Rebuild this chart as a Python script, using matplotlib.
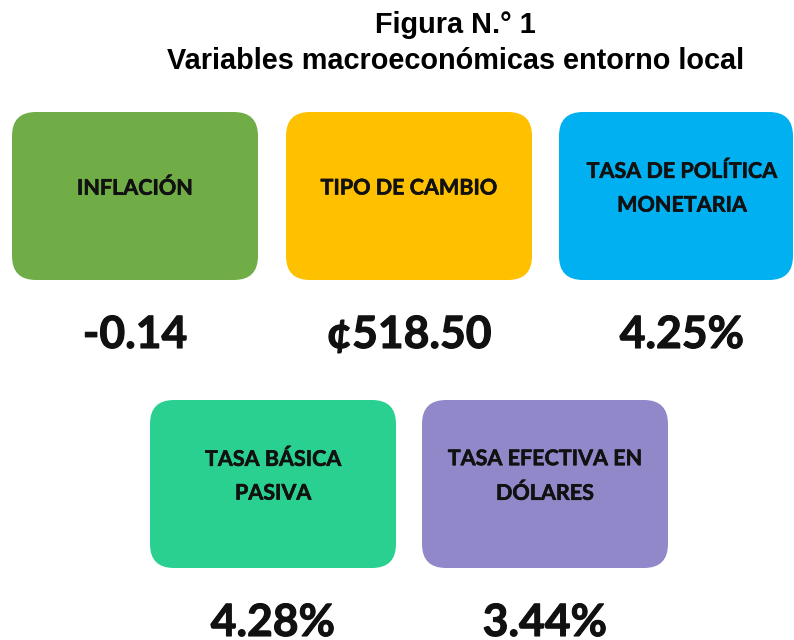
import matplotlib
matplotlib.use("Agg")
import matplotlib.pyplot as plt
from matplotlib.patches import FancyBboxPatch
import matplotlib.patheffects as pe

# Data
indicators = ["INFLACIÓN", "TIPO DE CAMBIO", "TASA DE POLÍTICA\nMONETARIA",
              "TASA BÁSICA\nPASIVA", "TASA EFECTIVA EN\nDÓLARES"]
values = ["-0.14", "¢518.50", "4.25%", "4.28%", "3.44%"]
colors = ["#70AD47", "#FFC000", "#00B0F0", "#29D08F", "#9188CA"]
title_lines = ["Figura N.° 1", "Variables macroeconómicas entorno local"]

# Layout (pixel coordinates: left x, top y, width, height)
box_h = 168
box_pos = [(12, 112, 246), (286, 112, 246), (559, 112, 234),
           (150, 400, 246), (422, 400, 246)]

fig = plt.figure(figsize=(7.94, 6.40), dpi=100)
ax = fig.add_axes([0, 0, 1, 1])
ax.set_xlim(0, 794)
ax.set_ylim(640, 0)
ax.axis("off")

ax.text(455, 33, title_lines[0], ha="center", va="baseline",
        fontsize=20.8, fontweight="bold", family="Liberation Sans")
ax.text(456, 69, title_lines[1], ha="center", va="baseline",
        fontsize=20.8, fontweight="bold", family="Liberation Sans")

for lab, val, col, (x, y, w) in zip(indicators, values, colors, box_pos):
    p = FancyBboxPatch((x, y), w, box_h,
                       boxstyle="round,pad=0,rounding_size=24",
                       facecolor=col, edgecolor="none", clip_on=False)
    ax.add_patch(p)
    cx = x + 123
    ax.text(cx, y + 76, lab, ha="center", va="center", fontsize=15.5,
            fontweight="bold", family="Lato", linespacing=1.75, color="#111111",
            path_effects=[pe.withStroke(linewidth=0.4, foreground="#111111")])
    ax.text(cx, y + 223, val, ha="center", va="center", fontsize=32,
            fontweight="bold", family="Lato", color="#111111",
            path_effects=[pe.withStroke(linewidth=0.8, foreground="#111111")])

fig.savefig("out.png", dpi=100)
